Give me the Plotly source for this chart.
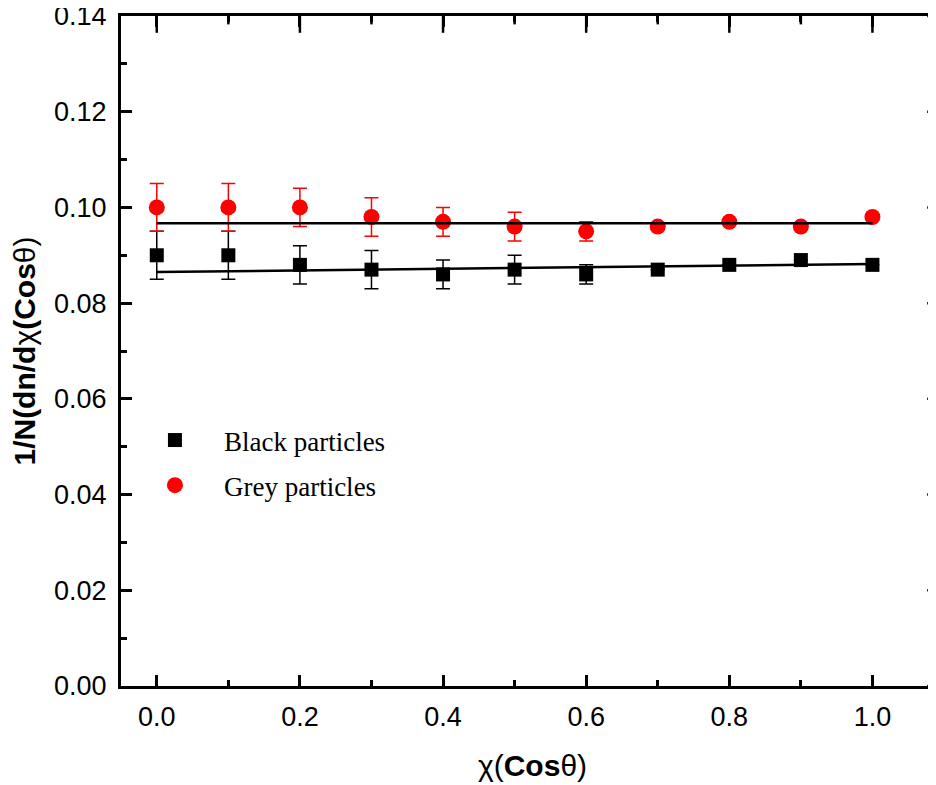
import plotly.graph_objects as go

# ---- data ----
chi = [0.0, 0.1, 0.2, 0.3, 0.4, 0.5, 0.6, 0.7, 0.8, 0.9, 1.0]
black_vals = [0.090, 0.090, 0.088, 0.087, 0.086, 0.087, 0.086, 0.087, 0.088, 0.089, 0.088]
black_err = [0.005, 0.005, 0.004, 0.004, 0.003, 0.003, 0.002, 0.0, 0.0, 0.0, 0.0]
grey_vals = [0.100, 0.100, 0.100, 0.098, 0.097, 0.096, 0.095, 0.096, 0.097, 0.096, 0.098]
grey_err = [0.005, 0.005, 0.004, 0.004, 0.003, 0.003, 0.002, 0.0, 0.0, 0.0, 0.0]
fit_x = [0.0, 1.0]
black_fit = [0.0865, 0.0882]
grey_fit = [0.0967, 0.0967]
x_ticks = [0.0, 0.2, 0.4, 0.6, 0.8, 1.0]
x_minor = [0.1, 0.3, 0.5, 0.7, 0.9]
y_ticks = [0.00, 0.02, 0.04, 0.06, 0.08, 0.10, 0.12, 0.14]
y_minor = [0.01, 0.03, 0.05, 0.07, 0.09, 0.11, 0.13]
x_range = [-0.05, 1.1]
y_range = [0, 0.14]

SANS = "Liberation Sans, Arial, sans-serif"
SERIF = "Liberation Serif, Times New Roman, serif"

fig = go.Figure()
fig.add_trace(go.Scatter(
    x=chi, y=black_vals, mode="markers", name="Black particles",
    legendgroup="b",
    marker=dict(symbol="square", size=14, color="black"),
    error_y=dict(type="data", array=black_err, color="black", thickness=1.5, width=7),
))
fig.add_trace(go.Scatter(
    x=chi, y=grey_vals, mode="markers", name="Grey particles",
    legendgroup="g",
    marker=dict(symbol="circle", size=16, color="#ff0000"),
    error_y=dict(type="data", array=grey_err, color="#ff0000", thickness=1.5, width=7),
))
fig.add_trace(go.Scatter(x=fit_x, y=black_fit, mode="lines", showlegend=False,
                         line=dict(color="black", width=2.5), hoverinfo="skip"))
fig.add_trace(go.Scatter(x=fit_x, y=grey_fit, mode="lines", showlegend=False,
                         line=dict(color="black", width=2.5), hoverinfo="skip"))


# tick marks on the top and right frame edges (the outer half of each marker is clipped)
def edge_ticks(xs, ys, symbol, size):
    fig.add_trace(go.Scatter(
        x=xs, y=ys, mode="markers", showlegend=False, hoverinfo="skip", cliponaxis=True,
        marker=dict(symbol=symbol, size=size, color="black", line=dict(color="black", width=2.5)),
    ))


edge_ticks(x_ticks, [y_range[1]] * len(x_ticks), "line-ns", 24)
edge_ticks(x_minor, [y_range[1]] * len(x_minor), "line-ns", 12)
edge_ticks([x_range[1]] * len(y_ticks), y_ticks, "line-ew", 24)
edge_ticks([x_range[1]] * len(y_minor), y_minor, "line-ew", 14)

fig.update_layout(
    width=936, height=785,
    margin=dict(l=113, r=0, t=8, b=107, autoexpand=False),
    plot_bgcolor="white", paper_bgcolor="white",
    font=dict(family=SANS, color="black", size=27),
    xaxis=dict(
        range=x_range, tickvals=x_ticks, tickformat=".1f",
        showline=True, linecolor="black", linewidth=3, mirror="ticks",
        ticks="inside", ticklen=11, tickwidth=2.5, tickcolor="black",
        minor=dict(ticks="inside", ticklen=6, tickwidth=2.5, dtick=0.1, tick0=0, tickcolor="black"),
        showgrid=False, zeroline=False, automargin=False,
        tickfont=dict(size=27, family=SANS),
        ticklabelstandoff=5,
        title=dict(text="χ(<b>Cos</b>θ)", font=dict(size=30, family=SANS), standoff=24),
    ),
    yaxis=dict(
        range=y_range, tickvals=y_ticks, tickformat=".2f",
        showline=True, linecolor="black", linewidth=3, mirror="ticks",
        ticks="inside", ticklen=11, tickwidth=2.5, tickcolor="black",
        minor=dict(ticks="inside", ticklen=6, tickwidth=2.5, dtick=0.01, tick0=0, tickcolor="black"),
        showgrid=False, zeroline=False, automargin=False,
        tickfont=dict(size=27, family=SANS),
        ticklabelstandoff=6, ticklabeloverflow="allow",
        title=dict(text="<b>1/N(dn/d</b>χ<b>(Cos</b>θ)", font=dict(size=30, family=SANS), standoff=10),
    ),
    legend=dict(
        x=0.006, y=0.403, xanchor="left", yanchor="top",
        bgcolor="rgba(0,0,0,0)", font=dict(family=SERIF, size=27, color="black"),
        itemwidth=88, tracegroupgap=7,
    ),
    showlegend=True,
)

fig.write_html(
    "out.html",
    post_script=(
        "var st=document.createElement('style');"
        "st.textContent='svg.main-svg,.svg-container,.plot-container{overflow:visible !important;}';"
        "document.head.appendChild(st);"
    ),
)
